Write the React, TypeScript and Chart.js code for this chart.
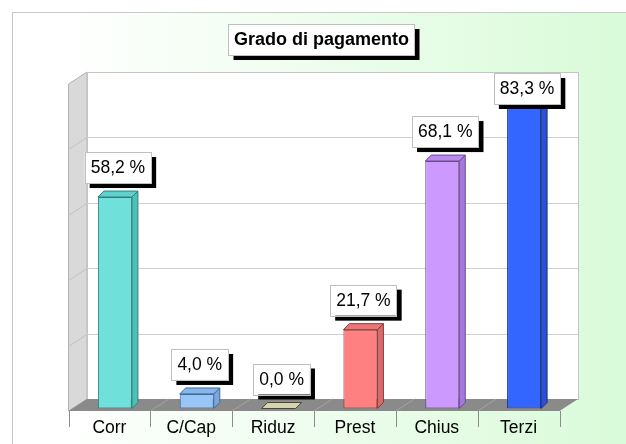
import React, { useEffect, useRef } from 'react';
import { Chart, registerables } from 'chart.js';

Chart.register(...registerables);

const titleText = 'Grado di pagamento';
const categories = ['Corr', 'C/Cap', 'Riduz', 'Prest', 'Chius', 'Terzi'];
const values = [58.2, 4.0, 0.0, 21.7, 68.1, 83.3];
const valueLabels = ['58,2 %', '4,0 %', '0,0 %', '21,7 %', '68,1 %', '83,3 %'];
const frontColors = ['#6fe0da', '#99c6f7', '#d6d3b0', '#ff8080', '#cc99ff', '#3366ff'];
const sideColors = ['#4fbfb9', '#7aa6dc', '#b5b290', '#d96a6a', '#a877dd', '#2a50d4'];
const topColors = ['#5fd0ca', '#88b6ea', '#d6d3b0', '#ea7676', '#bb88ee', '#2e5cec'];
const edgeColors = ['#2f7f7b', '#3f6b9c', '#4a4836', '#8a3a3a', '#6a4a8c', '#1a2f80'];
const yMin = 0;
const yMax = 90;
const yStep = 18;

const FONT = '"Liberation Sans", Arial, sans-serif';

const threeD = {
  id: 'threeD',
  beforeDraw(chart: any) {
    const { ctx, chartArea: ca, scales } = chart;
    const y = scales.y;
    const x = scales.x;
    const W = chart.width;
    const H = chart.height;
    ctx.save();
    ctx.fillStyle = '#ffffff';
    ctx.fillRect(0, 0, W, H);
    const g = ctx.createLinearGradient(62, 0, W, 0);
    g.addColorStop(0, '#ffffff');
    g.addColorStop(1, '#d9fbd9');
    ctx.fillStyle = g;
    ctx.fillRect(62, 13, W - 62, H - 13);
    ctx.strokeStyle = '#c8c8c8';
    ctx.lineWidth = 1;
    ctx.strokeRect(12.5, 12.5, W + 20, H + 20);

    const base = y.getPixelForValue(0);
    const cw = (ca.right - ca.left) / categories.length;
    const fx = (px: number) => px - 5.5;
    const DX = 18.5, DY = -12;
    const frontLeft = fx(ca.left);
    const frontRight = fx(ca.right);
    const floorFront = base + 2.5;
    const floorBack = floorFront + DY;
    const backLeft = frontLeft + DX;
    const backRight = frontRight + DX;
    const wallTop = y.getPixelForValue(yMax) - 9.5;
    const wy = (v: number) => y.getPixelForValue(v) - 9.5;

    ctx.beginPath();
    ctx.moveTo(frontLeft, wallTop - DY);
    ctx.lineTo(backLeft, wallTop);
    ctx.lineTo(backLeft, floorBack);
    ctx.lineTo(frontLeft, floorFront);
    ctx.closePath();
    ctx.fillStyle = '#d9d9d9';
    ctx.fill();
    ctx.strokeStyle = '#b4b4b4';
    ctx.stroke();

    ctx.fillStyle = '#ffffff';
    ctx.fillRect(backLeft, wallTop, backRight - backLeft, floorBack - wallTop);
    ctx.strokeStyle = '#c4c4c4';
    ctx.strokeRect(Math.round(backLeft) + 0.5, Math.round(wallTop) + 0.5, Math.round(backRight - backLeft), Math.round(floorBack - wallTop));

    for (let v = yMin + yStep; v < yMax; v += yStep) {
      const yy = Math.round(wy(v)) + 0.5;
      ctx.strokeStyle = '#d0d0d0';
      ctx.beginPath();
      ctx.moveTo(backLeft, yy);
      ctx.lineTo(backRight, yy);
      ctx.stroke();
      ctx.strokeStyle = '#c2c2c2';
      ctx.beginPath();
      ctx.moveTo(backLeft, yy);
      ctx.lineTo(frontLeft, yy - DY);
      ctx.stroke();
    }

    ctx.beginPath();
    ctx.moveTo(frontLeft, floorFront);
    ctx.lineTo(backLeft, floorBack);
    ctx.lineTo(backRight, floorBack);
    ctx.lineTo(frontRight, floorFront);
    ctx.closePath();
    ctx.fillStyle = '#8a8a8a';
    ctx.fill();
    ctx.strokeStyle = '#a4a4a4';
    for (let i = 1; i < categories.length; i++) {
      const px = frontLeft + i * cw;
      ctx.beginPath();
      ctx.moveTo(px, floorFront);
      ctx.lineTo(px + DX, floorBack);
      ctx.stroke();
    }

    ctx.strokeStyle = '#8c8c8c';
    for (let i = 0; i <= categories.length; i++) {
      const px = Math.round(frontLeft + i * cw) + 0.5;
      ctx.beginPath();
      ctx.moveTo(px, floorFront);
      ctx.lineTo(px, floorFront + 16);
      ctx.stroke();
    }
    ctx.fillStyle = '#000000';
    ctx.font = '17.5px ' + FONT;
    ctx.textAlign = 'center';
    ctx.textBaseline = 'alphabetic';
    categories.forEach((c, i) => {
      ctx.fillText(c, fx(x.getPixelForValue(i)), floorFront + 22);
    });

    ctx.font = 'bold 18px ' + FONT;
    const tw = ctx.measureText(titleText).width;
    const bw = tw + 11, bh = 31;
    const tcx = (ca.left + ca.right) / 2 + 2;
    const bx = tcx - bw / 2, by = 24;
    ctx.fillStyle = '#000000';
    ctx.fillRect(bx + 5, by + 5, bw, bh);
    ctx.fillStyle = '#ffffff';
    ctx.fillRect(bx, by, bw, bh);
    ctx.strokeStyle = '#c0c0c0';
    ctx.strokeRect(Math.round(bx) + 0.5, by + 0.5, Math.round(bw), bh);
    ctx.fillStyle = '#000000';
    ctx.textBaseline = 'middle';
    ctx.fillText(titleText, tcx, by + bh / 2 + 1);
    ctx.restore();
  },
  afterDatasetsDraw(chart: any) {
    const { ctx, scales } = chart;
    const y = scales.y;
    const meta = chart.getDatasetMeta(0);
    const dx = 6, dy = -6;
    const wallTop = y.getPixelForValue(yMax) - 9.5;
    ctx.save();
    ctx.lineWidth = 1;
    meta.data.forEach((bar: any, i: number) => {
      const p = bar.getProps(['x', 'y', 'base', 'width'], true);
      const l = p.x - p.width / 2, r = p.x + p.width / 2;
      const top = p.y, bot = p.base;
      ctx.strokeStyle = edgeColors[i];
      if (bot - top > 0.5) {
        ctx.beginPath();
        ctx.moveTo(r, top);
        ctx.lineTo(r + dx, top + dy);
        ctx.lineTo(r + dx, bot + dy);
        ctx.lineTo(r, bot);
        ctx.closePath();
        ctx.fillStyle = sideColors[i];
        ctx.fill();
        ctx.stroke();
      }
      ctx.beginPath();
      ctx.moveTo(l, top);
      ctx.lineTo(l + dx, top + dy);
      ctx.lineTo(r + dx, top + dy);
      ctx.lineTo(r, top);
      ctx.closePath();
      ctx.fillStyle = topColors[i];
      ctx.fill();
      ctx.stroke();
    });
    ctx.font = '17.5px ' + FONT;
    ctx.textAlign = 'center';
    ctx.textBaseline = 'middle';
    meta.data.forEach((bar: any, i: number) => {
      const p = bar.getProps(['x', 'y'], true);
      const txt = valueLabels[i];
      const tw = ctx.measureText(txt).width;
      const bw = tw + 12, bh = 31;
      const cx = p.x + dx / 2;
      let by = p.y + dy - 8 - bh;
      if (by < wallTop) by = wallTop + 1;
      const bx = cx - bw / 2;
      ctx.fillStyle = '#000000';
      ctx.fillRect(bx + 5, by + 5, bw, bh);
      ctx.fillStyle = '#ffffff';
      ctx.fillRect(bx, by, bw, bh);
      ctx.strokeStyle = '#c0c0c0';
      ctx.strokeRect(Math.round(bx) + 0.5, Math.round(by) + 0.5, Math.round(bw), bh);
      ctx.fillStyle = '#000000';
      ctx.fillText(txt, cx, by + bh / 2 + 1);
    });
    ctx.restore();
  },
};

export default function App() {
  const ref = useRef<HTMLCanvasElement | null>(null);
  useEffect(() => {
    if (!ref.current) return;
    const chart = new Chart(ref.current, {
      type: 'bar',
      data: {
        labels: categories,
        datasets: [
          {
            data: values,
            backgroundColor: frontColors,
            borderColor: edgeColors,
            borderWidth: 1,
            borderSkipped: false,
            categoryPercentage: 1,
            barPercentage: 0.4155,
          },
        ],
      },
      options: {
        animation: false,
        responsive: false,
        devicePixelRatio: 1,
        layout: { padding: { left: 74, right: 61, top: 81.5, bottom: 35.5 } },
        scales: {
          x: { display: false },
          y: { display: false, min: yMin, max: yMax, ticks: { stepSize: yStep } },
        },
        plugins: {
          legend: { display: false },
          title: { display: false },
          tooltip: { enabled: false },
        },
      },
      plugins: [threeD],
    });
    return () => chart.destroy();
  }, []);
  return (
    <div style={{ position: 'fixed', left: 0, top: 0, width: 626, height: 444 }}>
      <canvas ref={ref} width={626} height={444} style={{ display: 'block', width: 626, height: 444 }} />
    </div>
  );
}
